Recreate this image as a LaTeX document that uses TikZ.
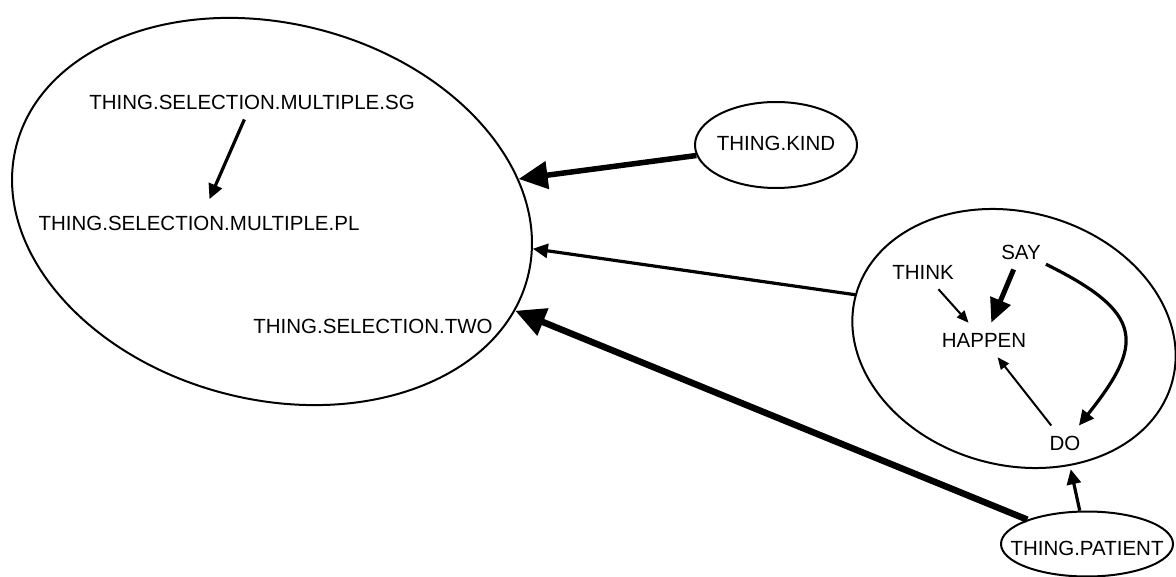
\documentclass[tikz,border=0pt]{standalone}
\usepackage{fontspec}
\setmainfont{Liberation Sans}
\usetikzlibrary{arrows.meta,shapes.geometric}

\begin{document}
\begin{tikzpicture}[x=1pt,y=-1pt,
  every node/.style={font=\fontsize{20.5}{24}\selectfont},
  lbl/.style={inner xsep=5pt, inner ysep=10pt},
  blob/.style={draw, ellipse, line width=2pt, inner sep=0pt},
  heavy/.style={line width=5.5pt, -{Triangle[length=29pt,width=27pt]}},
  bold/.style={line width=5pt, -{Triangle[length=24pt,width=21pt]}},
  medium/.style={line width=3.2pt, -{Triangle[length=15pt,width=14pt]}},
  light/.style={line width=2pt, -{Triangle[length=12pt,width=10pt]}}]

\useasboundingbox (0,0) rectangle (1176,577);

% the selection cluster
\node[blob, minimum width=528pt, minimum height=376pt, rotate=-14.4] (big) at (272,211.5) {};
\node[lbl] (sg)  at (252,102) {THING.SELECTION.MULTIPLE.SG};
\node[lbl] (pl)  at (199,223) {THING.SELECTION.MULTIPLE.PL};
\node[lbl] (two) at (373,326) {THING.SELECTION.TWO};

% kind
\node[blob, minimum width=162pt, minimum height=86pt] (kind) at (776,145) {};
\node[lbl] (kindtxt) at (776,143) {THING.KIND};

% the verb cluster
\node[blob, minimum width=328pt, minimum height=253pt, rotate=-15.4] (grp) at (1014,338.5) {};
\node[lbl] (think)  at (923,272)  {THINK};
\node[lbl] (say)    at (1021,252) {SAY};
\node[lbl] (happen) at (984,340)  {HAPPEN};
\node[lbl] (do)     at (1065,443) {DO};

% patient
\node[blob, minimum width=172pt, minimum height=65pt] (patient) at (1087,544) {};
\node[lbl] (patienttxt) at (1087,548) {THING.PATIENT};

% links inside the clusters
\draw[medium, shorten >=7pt] (sg) -- (pl);
\draw[light] (think) -- (happen);
\draw[bold] (say) -- (happen);
\draw[light] (do) -- (happen);
\draw[medium] (say) .. controls (1145,313) and (1144,344) .. (do);

% links between clusters
\draw[heavy] (kind) -- (big);
\draw[medium] (grp.west) -- (big);
\draw[line width=6.5pt, -{Triangle[length=30pt,width=28pt]}] (patient) -- (big);
\draw[medium, shorten >=9pt] (patient) -- (do);
\end{tikzpicture}
\end{document}
